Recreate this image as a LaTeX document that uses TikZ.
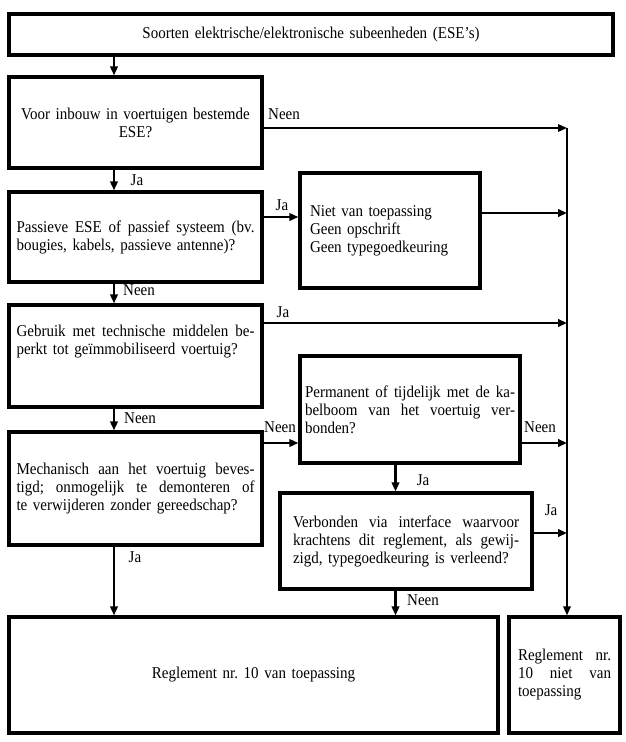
\documentclass[tikz,border=0pt]{standalone}
\usepackage{fontspec}
\setmainfont[WordSpace=1.5,FakeStretch=0.91]{Liberation Serif}
\usetikzlibrary{arrows.meta}
\begin{document}
\frenchspacing
\hyphenpenalty=10000
\begin{tikzpicture}[x=1pt,y=-1pt,
  font=\fontsize{16.5}{18}\selectfont,
  box/.style={draw, line width=3.2pt, inner sep=0pt},
  txt/.style={inner sep=0pt},
  arr/.style={line width=2.2pt, -{Triangle[length=9pt,width=7.5pt]}},
  lbl/.style={inner sep=0pt}]
\useasboundingbox (0,0) rectangle (625,742);
% boxes
\node[box, minimum width=604pt, minimum height=41pt] (top) at (311,34.5) {Soorten elektrische/elektronische subeenheden (ESE’s)};
\node[box, minimum width=253pt, minimum height=91pt, text width=238pt, align=center] (q1) at (135.5,122.5) {Voor inbouw in voertuigen bestemde\\ESE?};
\node[box, minimum width=253pt, minimum height=90pt, text width=238pt, align=justify] (q2) at (135.5,237) {Passieve ESE of passief systeem (bv.\linebreak bougies, kabels, passieve antenne)?};
\node[box, minimum width=180pt, minimum height=115pt, text width=160pt, align=left] (na) at (390,230.5) {Niet van toepassing\\Geen opschrift\\Geen typegoedkeuring};
\node[box, minimum width=253pt, minimum height=102pt] (q3) at (135.5,356) {};
\node[txt, text width=238pt, align=justify] (q3t) at (135.5,342) {Gebruik met technische middelen be-\linebreak perkt tot geïmmobiliseerd voertuig?};
\node[box, minimum width=220pt, minimum height=107pt, text width=210pt, align=justify] (q5) at (410,409.5) {Permanent of tijdelijk met de ka-\linebreak belboom van het voertuig ver-\linebreak bonden?};
\node[box, minimum width=253pt, minimum height=113pt, text width=238pt, align=justify] (q4) at (135.5,488.5) {Mechanisch aan het voertuig beves-\linebreak tigd; onmogelijk te demonteren of\linebreak te verwijderen zonder gereedschap?};
\node[box, minimum width=252pt, minimum height=96pt, text width=226pt, align=justify] (q6) at (406,541) {Verbonden via interface waarvoor\linebreak krachtens dit reglement, als gewij-\linebreak zigd, typegoedkeuring is verleend?};
\node[box, minimum width=489pt, minimum height=116pt] (res1) at (253.5,675) {Reglement nr. 10 van toepassing};
\node[box, minimum width=111pt, minimum height=116pt, text width=93pt, align=justify] (res2) at (564.5,675) {Reglement nr.\linebreak 10 niet van\linebreak toepassing};
% helper coordinates
\coordinate (cx) at (114,0);
\coordinate (rl) at (567,128);
\coordinate (ya) at (0,217);
\coordinate (rb) at (567,213);
\coordinate (rc) at (567,323);
\coordinate (yd) at (0,443);
\coordinate (re) at (567,443);
\coordinate (rf) at (567,533);
\coordinate (cy) at (395.5,0);
% connectors
\draw[arr] (top.south -| cx) -- (q1.north -| cx);
\draw[arr] (q1.south -| cx) -- (q2.north -| cx);
\draw[arr] (q2.south -| cx) -- (q3.north -| cx);
\draw[arr] (q3.south -| cx) -- (q4.north -| cx);
\draw[arr] (q4.south -| cx) -- (res1.north -| cx);
\draw[arr, line width=1.6pt] (q1.east |- rl) -- (rl);
\draw[arr, line width=1.6pt] (rl) -- (rl |- res2.north);
\draw[arr] (q2.east |- ya) -- (na.west |- ya);
\draw[arr] (na.east |- rb) -- (rb);
\draw[arr] (q3.east |- rc) -- (rc);
\draw[arr] (q4.east |- yd) -- (q5.west |- yd);
\draw[arr] (q5.east |- re) -- (re);
\draw[arr] (q5.south -| cy) -- (q6.north -| cy);
\draw[arr] (q6.east |- rf) -- (rf);
\draw[arr] (q6.south -| cy) -- (res1.north -| cy);
% labels
\node[lbl] (l1) at (284,114) {Neen};
\node[lbl] (l2) at (137,180) {Ja};
\node[lbl] (l3) at (282,205) {Ja};
\node[lbl] (l4) at (139,290) {Neen};
\node[lbl] (l5) at (283,312) {Ja};
\node[lbl] (l6) at (140,418) {Neen};
\node[lbl] (l7) at (280,427) {Neen};
\node[lbl] (l8) at (540,427) {Neen};
\node[lbl] (l9) at (423,480) {Ja};
\node[lbl] (l10) at (551,510) {Ja};
\node[lbl] (l11) at (423,600) {Neen};
\node[lbl] (l12) at (135,557) {Ja};
\end{tikzpicture}
\end{document}
